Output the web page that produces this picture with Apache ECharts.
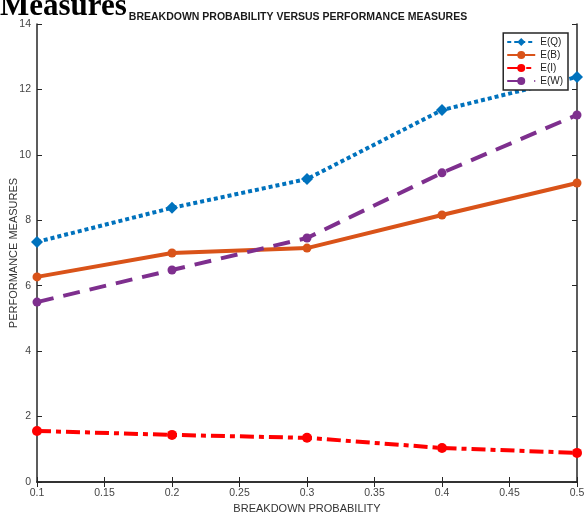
<!DOCTYPE html>
<html><head><meta charset="utf-8">
<script src="https://cdn.jsdelivr.net/npm/echarts@6/dist/echarts.min.js"></script>
<style>html,body{margin:0;padding:0;background:#fff}#c{width:585px;height:515px}</style>
</head><body><div id="c"></div>
<script>
const xValues = [0.1, 0.2, 0.3, 0.4, 0.5];
const EQ = [7.34, 8.38, 9.26, 11.37, 12.38];
const EB = [6.27, 7.00, 7.15, 8.16, 9.14];
const EI = [1.56, 1.44, 1.35, 1.04, 0.89];
const EW = [5.50, 6.48, 7.46, 9.45, 11.22];
const seriesNames = ['E(Q)', 'E(B)', 'E(I)', 'E(W)'];
const pair = arr => xValues.map((x, i) => [x, arr[i]]);
const chart = echarts.init(document.getElementById('c'));
const axisCol = '#262626';
const mkSeries = (name, data, color, type, symbol, size) => ({
  name, type: 'line', data: pair(data), symbol, symbolSize: size,
  itemStyle: { color }, lineStyle: { color, width: 4, type },
  showSymbol: true, z: 3, clip: false
});
chart.setOption({
  animation: false,
  backgroundColor: '#fff',
  graphic: [{
    type: 'text', left: 0, top: -9,
    style: { text: 'Measures', font: 'bold 31px "Liberation Serif", serif', fill: '#000' }
  }],
  title: {
    text: 'BREAKDOWN PROBABILITY VERSUS PERFORMANCE MEASURES',
    left: 293, top: 7, textAlign: 'center',
    textStyle: { fontFamily: 'Liberation Sans, Arial', fontSize: 10.5, fontWeight: 'bold', color: '#1a1a1a' }
  },
  legend: {
    orient: 'vertical', right: 17, top: 33,
    data: seriesNames,
    backgroundColor: '#fff', borderColor: axisCol, borderWidth: 1.5,
    padding: [4, 5, 4, 3], itemGap: 3, itemWidth: 28, itemHeight: 10,
    textStyle: { fontFamily: 'Liberation Sans, Arial', fontSize: 10, color: '#222' }
  },
  grid: { left: 37, right: 8, top: 24, bottom: 33, outerBoundsMode: 'none', containLabel: false },
  xAxis: [{
    type: 'value', min: 0.1, max: 0.5, interval: 0.05,
    name: 'BREAKDOWN PROBABILITY', nameLocation: 'middle', nameGap: 21, nameMoveOverlap: false,
    nameTextStyle: { fontFamily: 'Liberation Sans, Arial', fontSize: 11, color: '#333' },
    axisLine: { lineStyle: { color: axisCol, width: 1.5 } },
    axisTick: { inside: true, length: 5, lineStyle: { color: axisCol } },
    axisLabel: { fontFamily: 'Liberation Sans, Arial', fontSize: 10.5, color: '#444', margin: 6 },
    splitLine: { show: false }
  }, {
    type: 'value', position: 'top', min: 0.1, max: 0.5, interval: 0.05,
    axisLine: { show: true, lineStyle: { color: axisCol, width: 1.5 } },
    axisTick: { inside: true, length: 5, lineStyle: { color: axisCol } },
    axisLabel: { show: false }, splitLine: { show: false }
  }],
  yAxis: [{
    type: 'value', min: 0, max: 14, interval: 2,
    name: 'PERFORMANCE MEASURES', nameLocation: 'middle', nameGap: 18, nameMoveOverlap: false,
    nameTextStyle: { fontFamily: 'Liberation Sans, Arial', fontSize: 11, color: '#333' },
    axisLine: { show: true, lineStyle: { color: axisCol, width: 1.5 } },
    axisTick: { show: true, inside: true, length: 5, lineStyle: { color: axisCol } },
    axisLabel: { fontFamily: 'Liberation Sans, Arial', fontSize: 10.5, color: '#444', margin: 6 },
    splitLine: { show: false }
  }, {
    type: 'value', position: 'right', min: 0, max: 14, interval: 2,
    axisLine: { show: true, lineStyle: { color: axisCol, width: 1.5 } },
    axisTick: { show: true, inside: true, length: 5, lineStyle: { color: axisCol } },
    axisLabel: { show: false }, splitLine: { show: false }
  }],
  series: [
    mkSeries('E(Q)', EQ, '#0072BD', [4, 3], 'diamond', 12),
    mkSeries('E(B)', EB, '#D95319', 'solid', 'circle', 9),
    mkSeries('E(I)', EI, '#FF0000', [14, 5, 5, 5], 'circle', 10),
    mkSeries('E(W)', EW, '#7E2F8E', [17, 10], 'circle', 9)
  ]
});
</script></body></html>
